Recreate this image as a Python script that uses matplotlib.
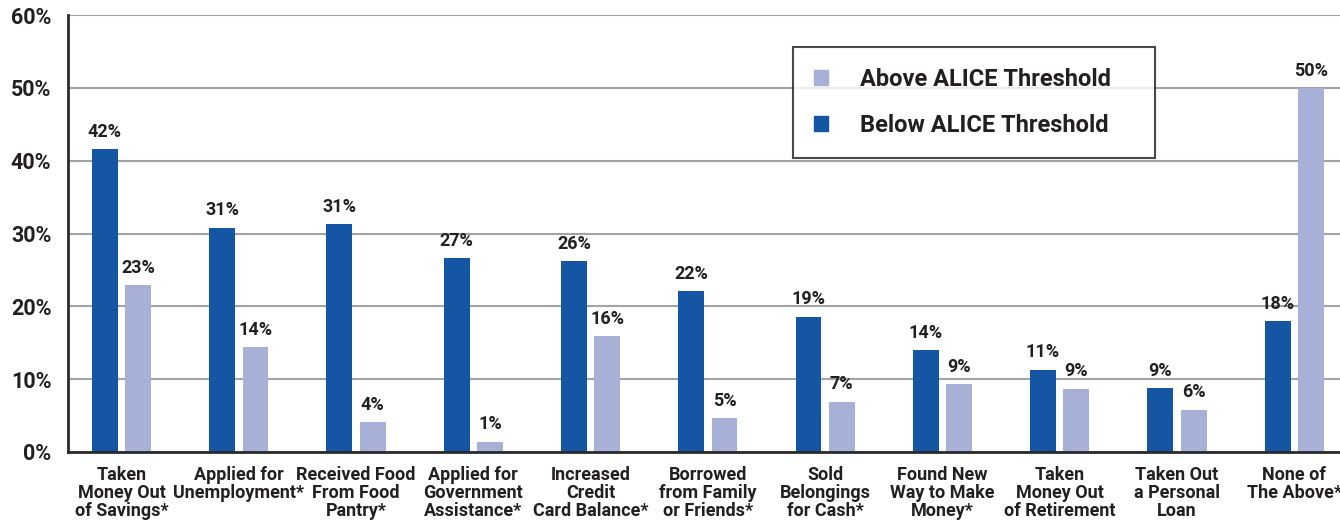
import matplotlib
matplotlib.use("Agg")
import matplotlib.pyplot as plt
import numpy as np
from matplotlib.patches import Patch

plt.rcParams["font.family"] = ["Roboto", "DejaVu Sans"]

# ---- data ----
categories = [
    "Taken\nMoney Out\nof Savings*",
    "Applied for\nUnemployment*",
    "Received Food\nFrom Food\nPantry*",
    "Applied for\nGovernment\nAssistance*",
    "Increased\nCredit\nCard Balance*",
    "Borrowed\nfrom Family\nor Friends*",
    "Sold\nBelongings\nfor Cash*",
    "Found New\nWay to Make\nMoney*",
    "Taken\nMoney Out\nof Retirement",
    "Taken Out\na Personal\nLoan",
    "None of\nThe Above*",
]
below = [41.6, 30.8, 31.3, 26.6, 26.2, 22.1, 18.6, 14.0, 11.3, 8.8, 18.0]
above = [22.9, 14.4, 4.1, 1.4, 15.9, 4.6, 6.9, 9.3, 8.7, 5.8, 50.0]
yticks = [0, 10, 20, 30, 40, 50, 60]

dark_blue = "#1455a4"
light_blue = "#a7b1d8"
text_col = "#231f20"

fig = plt.figure(figsize=(13.4, 5.23), dpi=100)
ax = fig.add_axes([68 / 1340, 71 / 523, 1 - 68 / 1340, 437 / 523])

x = np.arange(len(categories))
w = 0.22
off = 0.142
ax.bar(x - off, below, width=w, color=dark_blue, zorder=3)
ax.bar(x + off, above, width=w, color=light_blue, zorder=3)

# value labels
for xi, v in zip(x - off, below):
    ax.annotate(f"{v:.0f}%", (xi, v), xytext=(0, 6), textcoords="offset points",
                ha="center", va="bottom", fontsize=13, fontweight="bold", color=text_col)
for xi, v in zip(x + off, above):
    ax.annotate(f"{v:.0f}%", (xi, v), xytext=(0, 6), textcoords="offset points",
                ha="center", va="bottom", fontsize=13, fontweight="bold", color=text_col)

ax.set_ylim(0, 60)
ax.set_xlim(-0.456, 10.39)
ax.set_yticks(yticks)
ax.set_yticklabels([f"{t}%" for t in yticks], fontsize=15.5, fontweight="bold", color=text_col)
ax.set_xticks(x)
ax.set_xticklabels(categories, fontsize=13, fontweight="bold", color=text_col, linespacing=1.0)
ax.tick_params(axis="both", length=0)
ax.tick_params(axis="y", pad=12)
ax.tick_params(axis="x", pad=10)

ax.grid(axis="y", color="#a3a3a3", linewidth=1.5, zorder=0)
for s in ["top", "right"]:
    ax.spines[s].set_visible(False)
for s in ["left", "bottom"]:
    ax.spines[s].set_color("#2b2b2b")
    ax.spines[s].set_linewidth(2)
    ax.spines[s].set_zorder(4)

handles = [Patch(color=light_blue, label="Above ALICE Threshold"),
           Patch(color=dark_blue, label="Below ALICE Threshold")]
leg = fig.legend(handles=handles, loc="upper left",
                 bbox_to_anchor=(793 / 1340, 1 - 152 / 523, 362 / 1340, 105 / 523),
                 mode="expand",
                 prop={"size": 17, "weight": "bold"},
                 frameon=True, fancybox=False, edgecolor="#1a1a1a",
                 handlelength=0.6, handleheight=0.6, handletextpad=1.35,
                 labelspacing=0.95, borderpad=0.9, borderaxespad=0)
leg.get_frame().set_linewidth(1.5)
for t in leg.get_texts():
    t.set_color(text_col)

fig.savefig("out.png", dpi=100, facecolor="white")
